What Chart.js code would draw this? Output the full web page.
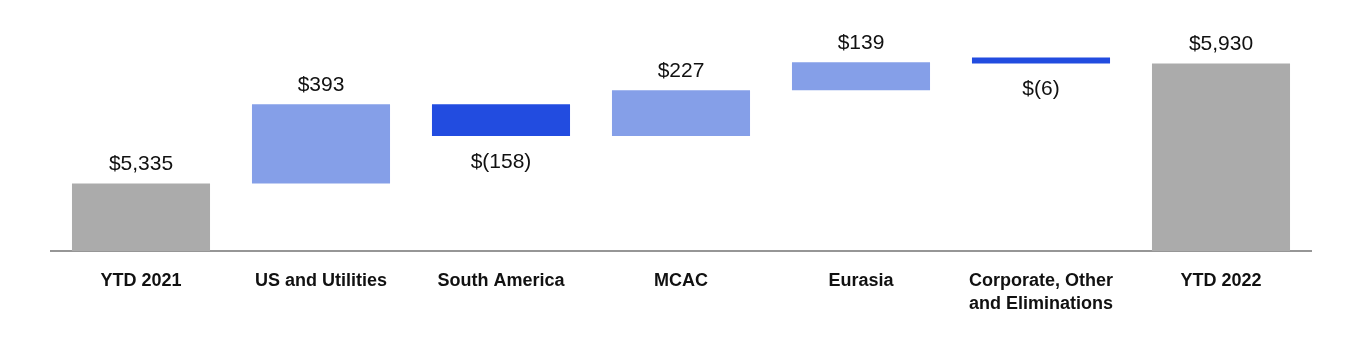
<!DOCTYPE html>
<html>
<head>
<meta charset="utf-8">
<script src="https://cdn.jsdelivr.net/npm/chart.js@4/dist/chart.umd.min.js"></script>
<style>
  html, body { margin: 0; padding: 0; background: #fff; }
  #wrap { width: 1360px; height: 350px; position: relative; }
</style>
</head>
<body>
<div id="wrap"><canvas id="waterfall-chart"></canvas></div>
<script>
const categories = [
  'YTD 2021',
  'US and Utilities',
  'South America',
  'MCAC',
  'Eurasia',
  ['Corporate, Other', 'and Eliminations'],
  'YTD 2022',
];
// totals are null where the bar is a change, changes are null where the bar is a total
const totals = [5335, null, null, null, null, null, 5930];
const changes = [null, 393, -158, 227, 139, -6, null];

const GRAY = 'rgb(171, 171, 171)';
const LIGHT_BLUE = 'rgb(133, 159, 232)';
const DARK_BLUE = 'rgb(34, 76, 224)';

function fmt(v) {
  const s = Math.abs(v).toLocaleString('en-US');
  return v < 0 ? '$(' + s + ')' : '$' + s;
}

// build floating ranges from the running total
function buildRanges() {
  let running = 0;
  return categories.map((c, i) => {
    if (totals[i] !== null) {
      running = totals[i];
      return [5000, totals[i]];
    }
    const start = running;
    running += changes[i];
    return [start, running];
  });
}

const valueLabels = {
  id: 'valueLabels',
  afterDatasetsDraw(chart) {
    const ctx = chart.ctx;
    const meta = chart.getDatasetMeta(0);
    ctx.save();
    ctx.font = '21px "Liberation Sans", Arial, sans-serif';
    ctx.fillStyle = '#111';
    ctx.textAlign = 'center';
    ctx.textBaseline = 'middle';
    meta.data.forEach((bar, i) => {
      const v = totals[i] !== null ? totals[i] : changes[i];
      const top = Math.min(bar.y, bar.base);
      const bottom = Math.max(bar.y, bar.base);
      if (v < 0) {
        ctx.fillText(fmt(v), bar.x, bottom + 26);
      } else {
        ctx.fillText(fmt(v), bar.x, top - 19);
      }
    });
    ctx.restore();
  },
};

function createWaterfall() {
  const ctx = document.getElementById('waterfall-chart').getContext('2d');
  new Chart(ctx, {
    type: 'bar',
    data: {
      labels: categories,
      datasets: [
        {
          data: buildRanges(),
          backgroundColor: categories.map((c, i) =>
            totals[i] !== null ? GRAY : (changes[i] < 0 ? DARK_BLUE : LIGHT_BLUE)),
          barPercentage: 0.767,
          categoryPercentage: 1,
          minBarLength: 6,
        },
      ],
    },
    options: {
      responsive: true,
      maintainAspectRatio: false,
      animation: false,
      layout: {
        padding: { left: 51, right: 49, top: 9, bottom: 15 },
      },
      plugins: {
        legend: { display: false },
        tooltip: { enabled: false },
      },
      scales: {
        x: {
          grid: { display: false, drawTicks: false },
          border: { display: true, color: 'rgb(150, 150, 150)', width: 2 },
          ticks: {
            color: '#111',
            padding: 19,
            maxRotation: 0,
            autoSkip: false,
            font: { family: '"Liberation Sans", Arial, sans-serif', size: 18, weight: 'bold', lineHeight: 1.28 },
          },
        },
        y: {
          display: false,
          min: 5000,
          max: 6200,
        },
      },
    },
    plugins: [valueLabels],
  });
}

document.addEventListener('DOMContentLoaded', () => {
  createWaterfall();
});
</script>
</body>
</html>
